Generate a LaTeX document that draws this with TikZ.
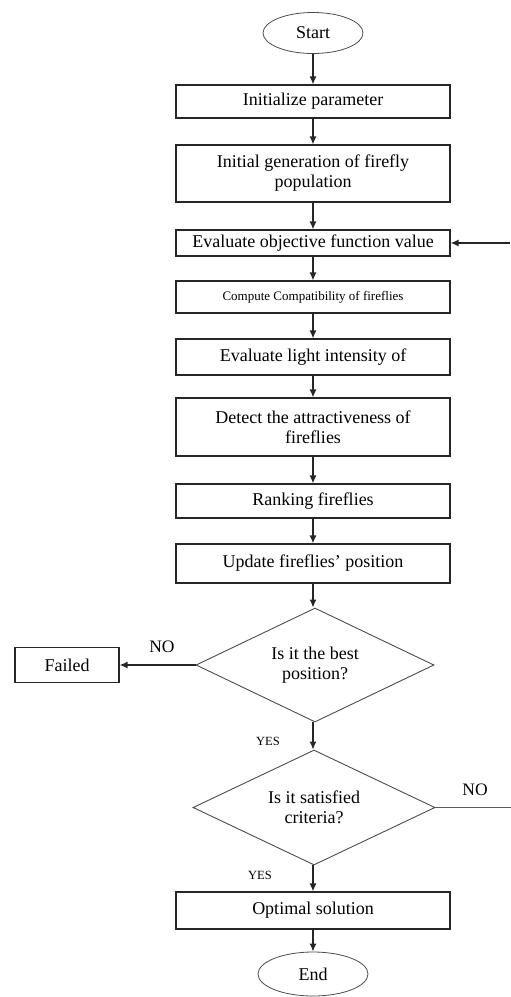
\documentclass[tikz,border=0pt]{standalone}
\usepackage{fontspec}
\setmainfont{Liberation Serif}
\usetikzlibrary{shapes.geometric,arrows.meta}
\tikzset{
  box/.style={draw=black!85, line width=1.2pt, rectangle, minimum width=274pt, inner sep=0pt, align=center, font=\fontsize{18}{20}\selectfont},
  term/.style={draw=black!70, line width=0.8pt, ellipse, inner sep=0pt, font=\fontsize{18}{20}\selectfont},
  dec/.style={draw=black!70, line width=0.9pt, diamond, shape aspect=2, inner sep=0pt, align=center, font=\fontsize{18}{20}\selectfont},
  arr/.style={draw=black!85, line width=1.3pt, -{Latex[length=8pt,width=7pt]}},
  ln/.style={draw=black!65, line width=0.9pt},
  lbl/.style={font=\fontsize{17.5}{20}\selectfont, inner sep=0pt},
  slbl/.style={font=\fontsize{12.5}{14}\selectfont, inner sep=0pt}
}
\begin{document}
\begin{tikzpicture}[x=1pt,y=-1pt]
\useasboundingbox (0,0) rectangle (511,997);
\node[term, minimum width=100pt, minimum height=41pt] (start) at (313,33) {Start};
\node[box, minimum height=33pt] (b1) at (313,101.5) {Initialize parameter};
\node[box, minimum height=57pt] (b2) at (313,173.5) {Initial generation of firefly\\population};
\node[box, minimum height=26pt] (b3) at (313,243) {Evaluate objective function value};
\node[box, minimum height=32pt, font=\fontsize{13}{14}\selectfont] (b4) at (313,297) {Compute Compatibility of fireflies};
\node[box, minimum height=36pt] (b5) at (313,357) {Evaluate light intensity of};
\node[box, minimum height=58pt] (b6) at (313,427) {Detect the attractiveness of\\fireflies};
\node[box, minimum height=34pt] (b7) at (313,501) {Ranking fireflies};
\node[box, minimum height=39pt] (b8) at (313,563.5) {Update fireflies’ position};
\node[dec, minimum width=238pt, minimum height=114pt] (d1) at (315,665) {Is it the best\\position?};
\node[box, minimum width=104pt, minimum height=35pt] (fail) at (67,665) {Failed};
\node[dec, minimum width=242pt, minimum height=115pt] (d2) at (314,807.5) {Is it satisfied\\criteria?};
\node[box, minimum height=37pt] (opt) at (313,910.5) {Optimal solution};
\node[term, minimum width=110pt, minimum height=44pt] (end) at (313,974) {End};

\draw[arr] (start) -- (b1);
\draw[arr] (b1) -- (b2);
\draw[arr] (b2) -- (b3);
\draw[arr] (b3) -- (b4);
\draw[arr] (b4) -- (b5);
\draw[arr] (b5) -- (b6);
\draw[arr] (b6) -- (b7);
\draw[arr] (b7) -- (b8);
\draw[arr] (b8.south) -- (b8.south |- d1.north);
\draw[arr] (d1.west) -- (fail.east);
\draw[arr] (d1.south -| 313,0) -- (313,0 |- d2.north);
\draw[arr] (d2.south -| 313,0) -- (opt.north);
\draw[arr] (opt) -- (end);

\coordinate (fbin) at (510,243);
\coordinate (fbout) at (511,807.5);
\draw[arr] (fbin) -- (b3.east);
\draw[ln] (d2.east) -- (fbout);

\node[lbl] (no1) at (162,647) {NO};
\node[slbl] (yes1) at (268,741) {YES};
\node[lbl] (no2) at (475,790) {NO};
\node[slbl] (yes2) at (260,875) {YES};
\end{tikzpicture}
\end{document}
